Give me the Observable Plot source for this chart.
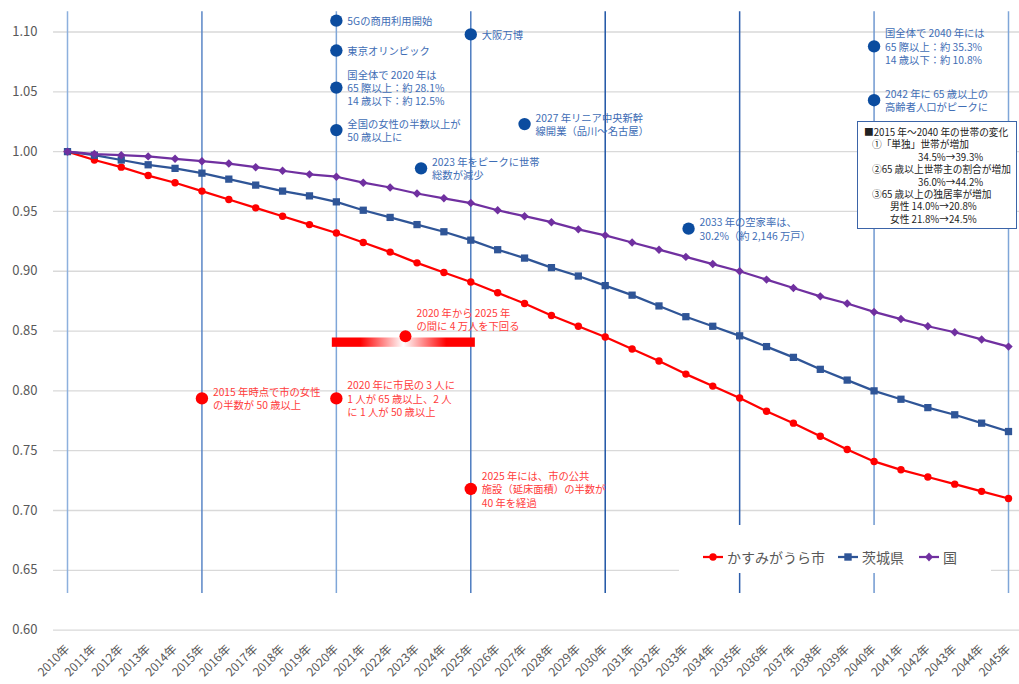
<!DOCTYPE html>
<html><head><meta charset="utf-8">
<script src="https://cdn.jsdelivr.net/npm/d3@7"></script>
<script src="https://cdn.jsdelivr.net/npm/@observablehq/plot@0.6"></script>
<style>
html,body{margin:0;padding:0;background:#fff;}
#wrap{position:relative;width:1019px;height:684px;overflow:hidden;font-family:"Noto Sans CJK JP","Noto Sans",sans-serif;}
#wrap svg{display:block;}
#legend{position:absolute;left:679px;top:525px;width:312px;height:48px;background:#fff;}
.lg{position:absolute;top:22px;height:20px;display:flex;align-items:center;font-size:14px;color:#595959;white-space:nowrap;}
#box{position:absolute;left:857px;top:121px;width:160px;height:108px;border:1px solid #3B64A8;background:#fff;box-sizing:border-box;font-size:9.7px;color:#222;line-height:12.4px;padding-top:4px;}
#box div{white-space:nowrap;height:12.4px;}
</style></head><body><div id="wrap"></div>
<script>
// ---- data ----
const years = [2010,2011,2012,2013,2014,2015,2016,2017,2018,2019,2020,2021,2022,2023,2024,2025,2026,2027,2028,2029,2030,2031,2032,2033,2034,2035,2036,2037,2038,2039,2040,2041,2042,2043,2044,2045];
const kasumigaura = [1.000,0.993,0.987,0.980,0.974,0.967,0.960,0.953,0.946,0.939,0.932,0.924,0.916,0.907,0.899,0.891,0.882,0.873,0.863,0.854,0.845,0.835,0.825,0.814,0.804,0.794,0.783,0.773,0.762,0.751,0.741,0.734,0.728,0.722,0.716,0.710];
const ibaraki = [1.000,0.997,0.993,0.989,0.986,0.982,0.977,0.972,0.967,0.963,0.958,0.951,0.945,0.939,0.933,0.926,0.918,0.911,0.903,0.896,0.888,0.880,0.871,0.862,0.854,0.846,0.837,0.828,0.818,0.809,0.800,0.793,0.786,0.780,0.773,0.766];
const kuni = [1.000,0.998,0.997,0.996,0.994,0.992,0.990,0.987,0.984,0.981,0.979,0.974,0.970,0.965,0.961,0.957,0.951,0.946,0.941,0.935,0.930,0.924,0.918,0.912,0.906,0.900,0.893,0.886,0.879,0.873,0.866,0.860,0.854,0.849,0.843,0.837];
const seriesNames = ["かすみがうら市","茨城県","国"];
const yTicks = [0.60,0.65,0.70,0.75,0.80,0.85,0.90,0.95,1.00,1.05,1.10];
const eventYears = [2010,2015,2020,2025,2030,2035,2040,2045];

const blueNotes = [
  {year:2020, value:1.1095, label:"5Gの商用利用開始"},
  {year:2020, value:1.0845, label:"東京オリンピック"},
  {year:2020, value:1.0535, label:"国全体で 2020 年は\n65 際以上：約 28.1%\n14 歳以下：約 12.5%"},
  {year:2020, value:1.018, label:"全国の女性の半数以上が\n50 歳以上に"},
  {year:2023.15, value:0.986, label:"2023 年をピークに世帯\n総数が減少"},
  {year:2025, value:1.098, label:"大阪万博"},
  {year:2027, value:1.023, label:"2027 年リニア中央新幹\n線開業（品川～名古屋）"},
  {year:2033.1, value:0.9356, label:"2033 年の空家率は、\n30.2%（約 2,146 万戸）"},
  {year:2040, value:1.088, label:"国全体で 2040 年には\n65 際以上：約 35.3%\n14 歳以下：約 10.8%"},
  {year:2040, value:1.043, label:"2042 年に 65 歳以上の\n高齢者人口がピークに"}
];
const redNotes = [
  {year:2015, value:0.7937, label:"2015 年時点で市の女性\nの半数が 50 歳以上"},
  {year:2020, value:0.7937, label:"2020 年に市民の 3 人に\n1 人が 65 歳以上、2 人\nに 1 人が 50 歳以上"},
  {year:2025, value:0.718, label:"2025 年には、市の公共\n施設（延床面積）の半数が\n40 年を経過"}
];
const redNoteAbove = [{year:2022.57, value:0.8456, label:"2020 年から 2025 年\nの間に 4 万人を下回る"}];
const redBar = [{x1:2019.85, x2:2025.17, y1:0.8364, y2:0.8442}];

const boxLines = ["■2015 年～2040 年の世帯の変化","①「単独」世帯が増加","34.5%→39.3%","②65 歳以上世帯主の割合が増加","36.0%→44.2%","③65 歳以上の独居率が増加","男性 14.0%→20.8%","女性 21.8%→24.5%"];

// ---- styles ----
const boxIndent = [6,14,60,14,60,14,32,32];
const vColors = ["#8DB0DD","#5A86C6","#7FA6D8","#4D7CC0","#1F55A5","#2C5DAA","#6F98D0","#7FA6D8"];
const colK = "#FF0000", colB = "#2F5597", colN = "#7030A0";
const blueDot = "#0B4C9F", blueText = "#3E6DB5", redText = "#FF3B3B";

const table = years.map((year,i)=>({year, k:kasumigaura[i], b:ibaraki[i], n:kuni[i]}));

const plot = Plot.plot({
  width:1019, height:684,
  marginLeft:67, marginRight:11, marginTop:31.5, marginBottom:54.4,
  x:{type:"linear", domain:[2010,2045]},
  y:{domain:[0.6,1.1]},
  color:{type:"identity"},
  style:{fontFamily:'"Noto Sans CJK JP","Noto Sans",sans-serif', fontSize:"12px", color:"#595959", background:"white", overflow:"visible"},
  marks:[
    Plot.ruleY(yTicks,{y:d=>d, x1:()=>2009.48, x2:()=>2045.41, stroke:"#D9D9D9", strokeWidth:1.3}),
    Plot.ruleX(eventYears,{x:d=>d, y1:()=>0.6307, y2:()=>1.117, stroke:(d,i)=>vColors[i], strokeWidth:1.5}),
    Plot.rect(redBar,{x1:"x1", x2:"x2", y1:"y1", y2:"y2", fill:"url(#barGrad)"}),
    Plot.line(table,{x:"year", y:"k", stroke:colK, strokeWidth:2.25}),
    Plot.dot(table,{x:"year", y:"k", symbol:"circle", r:3.7, fill:colK}),
    Plot.line(table,{x:"year", y:"b", stroke:colB, strokeWidth:2.25}),
    Plot.dot(table,{x:"year", y:"b", symbol:"square", r:4.1, fill:colB}),
    Plot.line(table,{x:"year", y:"n", stroke:colN, strokeWidth:2.25}),
    Plot.dot(table,{x:"year", y:"n", symbol:"diamond2", r:3.8, fill:colN}),
    Plot.dot(blueNotes,{x:"year", y:"value", r:6.2, fill:blueDot}),
    Plot.text(blueNotes,{x:"year", y:"value", text:"label", textAnchor:"start", dx:11, lineAnchor:"middle", lineHeight:1.3, fontSize:10.3, fill:blueText}),
    Plot.dot(redNotes,{x:"year", y:"value", r:6.2, fill:colK}),
    Plot.text(redNotes,{x:"year", y:"value", text:"label", textAnchor:"start", dx:11, lineAnchor:"middle", lineHeight:1.3, fontSize:10.3, fill:redText}),
    Plot.dot(redNoteAbove,{x:"year", y:"value", r:6, fill:colK}),
    Plot.text(redNoteAbove,{x:"year", y:"value", text:"label", textAnchor:"start", dx:11, dy:-17, lineAnchor:"middle", lineHeight:1.3, fontSize:10.3, fill:redText}),
    Plot.axisY(yTicks,{tickSize:0, tickPadding:30, tickFormat:d3.format(".2f"), fontSize:13, label:null}),
    Plot.axisX(years,{tickSize:0, tickPadding:17, tickRotate:-45, tickFormat:d=>d+"年", fontSize:12, label:null})
  ]
});

const svg = d3.select(plot);
const grad = svg.insert("defs",":first-child").append("linearGradient")
  .attr("id","barGrad").attr("x1","0").attr("x2","1").attr("y1","0").attr("y2","0");
[[0,"#FF0000"],[0.2,"#FF0000"],[0.5,"#FFFFFF"],[0.8,"#FF0000"],[1,"#FF0000"]].forEach(([o,c])=>{
  grad.append("stop").attr("offset",o).attr("stop-color",c);
});

const wrap = document.getElementById("wrap");
wrap.appendChild(plot);

// legend
const legend = document.createElement("div");
legend.id = "legend";
const symbols = [
  `<svg width="20" height="12"><line x1="0" x2="20" y1="6" y2="6" stroke="${colK}" stroke-width="2.25"/><circle cx="10" cy="6" r="3.7" fill="${colK}"/></svg>`,
  `<svg width="20" height="12"><line x1="0" x2="20" y1="6" y2="6" stroke="${colB}" stroke-width="2.25"/><rect x="6.3" y="2.3" width="7.4" height="7.4" fill="${colB}"/></svg>`,
  `<svg width="20" height="12"><line x1="0" x2="20" y1="6" y2="6" stroke="${colN}" stroke-width="2.25"/><path d="M10 1.5L14 6L10 10.5L6 6Z" fill="${colN}"/></svg>`
];
const legendLeft = [24,159,240];
seriesNames.forEach((name,i)=>{
  const it = document.createElement("div");
  it.className = "lg";
  it.style.left = legendLeft[i] + "px";
  it.innerHTML = symbols[i] + `<span style="margin-left:4px">${name}</span>`;
  legend.appendChild(it);
});
wrap.appendChild(legend);

// box
const box = document.createElement("div");
box.id = "box";
boxLines.forEach((t,i)=>{
  const d = document.createElement("div");
  d.style.paddingLeft = boxIndent[i] + "px";
  d.textContent = t;
  box.appendChild(d);
});
wrap.appendChild(box);
</script>
</body></html>
